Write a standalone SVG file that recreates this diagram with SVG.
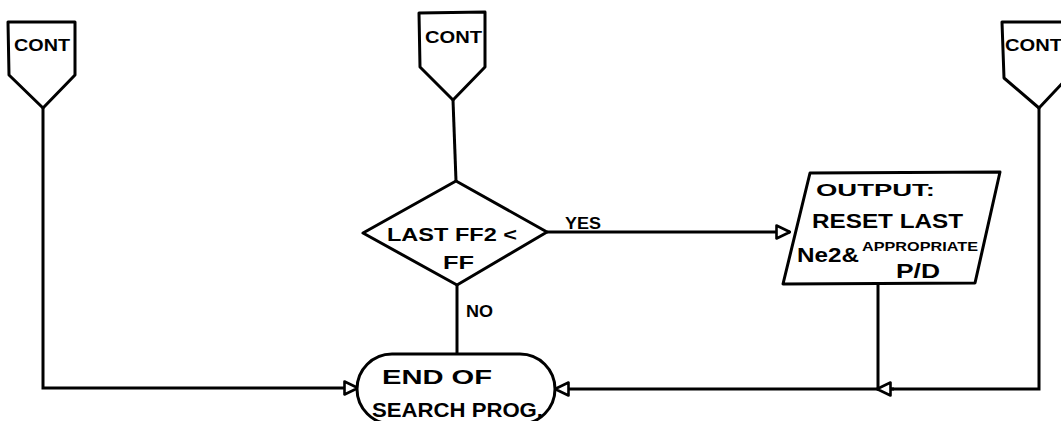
<svg xmlns="http://www.w3.org/2000/svg" width="1061" height="421" viewBox="0 0 1061 421">
  <defs>
    <style>
      .shape { fill: #ffffff; stroke: #000000; stroke-width: 3; stroke-linejoin: round; }
      .wire { fill: none; stroke: #000000; stroke-width: 3; }
      .lbl { font-family: "Liberation Sans", Arial, sans-serif; fill: #000000; font-weight: bold; }
    </style>
    <marker id="openArrow" viewBox="0 0 16 16" refX="15" refY="8" markerWidth="16" markerHeight="16" markerUnits="userSpaceOnUse" orient="auto">
      <path d="M1.5,1.5 L15,8 L1.5,14.5 Z" fill="#ffffff" stroke="#000000" stroke-width="2.6" stroke-linejoin="round"/>
    </marker>
  </defs>

  <rect width="1061" height="421" fill="#ffffff"/>

  <!-- connectors -->
  <g id="connectors">
    <!-- left continuation down and across to the terminator -->
    <path class="wire" d="M43,108 L43,388 L358,388" marker-end="url(#openArrow)"/>
    <!-- middle continuation into the decision -->
    <path class="wire" d="M453,100 L456,181"/>
    <!-- YES branch to the output -->
    <path class="wire" d="M547,232 L790,232" marker-end="url(#openArrow)"/>
    <!-- NO branch to the terminator -->
    <path class="wire" d="M457,285 L457,354"/>
    <!-- right continuation down and back to the terminator -->
    <path class="wire" d="M1039,108 L1039,389 L878,389"/>
    <path class="wire" d="M894,389 L877,389" marker-end="url(#openArrow)"/>
    <path class="wire" d="M878,389 L555,389" marker-end="url(#openArrow)"/>
    <!-- output down to the return line -->
    <path class="wire" d="M878,283 L878,389"/>
  </g>

  <!-- off-page continuation, left -->
  <g id="cont-left">
    <path class="shape" d="M8,22 L75,22 L75,75 L43,108 L9,75 Z"/>
    <text class="lbl" x="14" y="51" font-size="17" textLength="56" lengthAdjust="spacingAndGlyphs">CONT</text>
  </g>

  <!-- off-page continuation, middle -->
  <g id="cont-mid">
    <path class="shape" d="M419,13 L485,12 L485,67 L453,100 L420,67 Z"/>
    <text class="lbl" x="425" y="43" font-size="17" textLength="57" lengthAdjust="spacingAndGlyphs">CONT</text>
  </g>

  <!-- off-page continuation, right (runs off the sheet) -->
  <g id="cont-right">
    <path class="shape" d="M1002,22 L1070,22 L1070,75 L1039,108 L1004,78 Z"/>
    <text class="lbl" x="1005" y="51" font-size="17" textLength="57" lengthAdjust="spacingAndGlyphs">CONT</text>
  </g>

  <!-- decision -->
  <g id="decision">
    <path class="shape" d="M456,181 L547,232 L457,285 L363,233 Z"/>
    <text class="lbl" x="387" y="241" font-size="19" textLength="130" lengthAdjust="spacingAndGlyphs">LAST FF2 &lt;</text>
    <text class="lbl" x="443" y="269" font-size="19" textLength="31" lengthAdjust="spacingAndGlyphs">FF</text>
    <text class="lbl" x="565" y="229" font-size="17" textLength="36" lengthAdjust="spacingAndGlyphs">YES</text>
    <text class="lbl" x="466" y="317" font-size="17" textLength="27" lengthAdjust="spacingAndGlyphs">NO</text>
  </g>

  <!-- output -->
  <g id="output">
    <path class="shape" d="M810,173 L1000,172 L975,283 L783,284 Z"/>
    <text class="lbl" x="816" y="196" font-size="17" textLength="119" lengthAdjust="spacingAndGlyphs">OUTPUT:</text>
    <text class="lbl" x="812" y="228" font-size="21" textLength="151" lengthAdjust="spacingAndGlyphs">RESET LAST</text>
    <text class="lbl" x="797" y="262" font-size="21" textLength="62" lengthAdjust="spacingAndGlyphs">Ne2&amp;</text>
    <text class="lbl" x="862" y="251" font-size="12" textLength="116" lengthAdjust="spacingAndGlyphs">APPROPRIATE</text>
    <text class="lbl" x="896" y="278" font-size="21" textLength="44" lengthAdjust="spacingAndGlyphs">P/D</text>
  </g>

  <!-- terminator -->
  <g id="terminator">
    <rect class="shape" x="357" y="354" width="198" height="70" rx="35" ry="35"/>
    <text class="lbl" x="382" y="384" font-size="20" textLength="110" lengthAdjust="spacingAndGlyphs">END OF</text>
    <text class="lbl" x="372" y="417" font-size="20" textLength="171" lengthAdjust="spacingAndGlyphs">SEARCH PROG.</text>
  </g>
</svg>
